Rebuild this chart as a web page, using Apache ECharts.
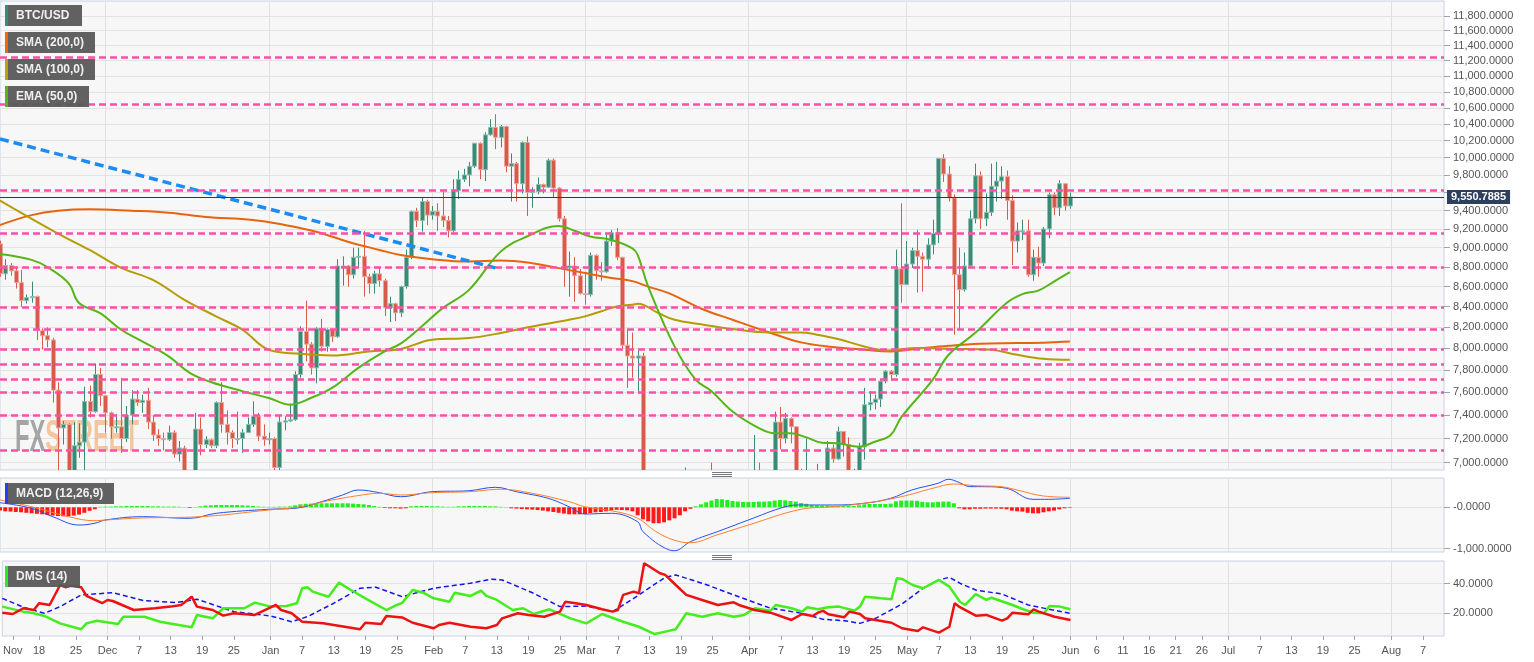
<!DOCTYPE html>
<html>
<head>
<meta charset="utf-8">
<script src="https://cdn.jsdelivr.net/npm/echarts@6/dist/echarts.min.js"></script>
<style>
html,body{margin:0;padding:0;background:#fff;}
#chart{width:1534px;height:662px;}
</style>
</head>
<body>
<div id="chart"></div>
<script>
// ---------- categories: daily dates from 2019-11-11 to 2020-08-11 ----------
const dates = [];
(function(){ const s = Date.UTC(2019,10,11); for (let i=0;i<275;i++){ dates.push(new Date(s+i*86400000).toISOString().slice(0,10)); } })();

// x tick labels [date, text]
const xTickLabels = [
 ['2019-11-13','Nov'],['2019-11-18','18'],['2019-11-25','25'],
 ['2019-12-01','Dec'],['2019-12-07','7'],['2019-12-13','13'],['2019-12-19','19'],['2019-12-25','25'],
 ['2020-01-01','Jan'],['2020-01-07','7'],['2020-01-13','13'],['2020-01-19','19'],['2020-01-25','25'],
 ['2020-02-01','Feb'],['2020-02-07','7'],['2020-02-13','13'],['2020-02-19','19'],['2020-02-25','25'],
 ['2020-03-01','Mar'],['2020-03-07','7'],['2020-03-13','13'],['2020-03-19','19'],['2020-03-25','25'],
 ['2020-04-01','Apr'],['2020-04-07','7'],['2020-04-13','13'],['2020-04-19','19'],['2020-04-25','25'],
 ['2020-05-01','May'],['2020-05-07','7'],['2020-05-13','13'],['2020-05-19','19'],['2020-05-25','25'],
 ['2020-06-01','Jun'],['2020-06-06','6'],['2020-06-11','11'],['2020-06-16','16'],['2020-06-21','21'],['2020-06-26','26'],
 ['2020-07-01','Jul'],['2020-07-07','7'],['2020-07-13','13'],['2020-07-19','19'],['2020-07-25','25'],
 ['2020-08-01','Aug'],['2020-08-07','7']
];
const priceTicks = [7000,7200,7400,7600,7800,8000,8200,8400,8600,8800,9000,9200,9400,9600,9800,10000,10200,10400,10600,10800,11000,11200,11400,11600,11800];
const priceLabels = [7000,7200,7400,7600,7800,8000,8200,8400,8600,8800,9000,9200,9400,9800,10000,10200,10400,10600,10800,11000,11200,11400,11600,11800];
const macdTicks = [-1000, 0];
const dmsTicks = [20, 40];

// ---------- BTC/USD daily candles [open, close, low, high], 2019-11-11 .. 2020-06-01 ----------
const candles = [
 // Nov 11-30
 [9040,8730,8700,9075],[8730,8815,8670,8880],[8815,8760,8710,8840],[8760,8640,8580,8790],[8640,8460,8400,8770],
 [8460,8490,8430,8520],[8490,8500,8440,8650],[8500,8170,8080,8510],[8170,8120,7990,8190],[8120,8080,8010,8200],
 [8080,7620,7510,8100],[7620,7290,6860,7690],[7290,7320,7150,7350],[7320,6910,6870,7330],[6910,7140,6530,7340],
 [7140,7170,7040,7330],[7170,7520,6850,7650],[7520,7430,7380,7660],[7430,7760,7420,7860],[7760,7570,7480,7820],
 // Dec
 [7570,7420,7250,7570],[7420,7300,7200,7430],[7300,7300,7250,7410],[7300,7200,7080,7730],[7200,7400,7170,7480],
 [7400,7540,7320,7620],[7540,7510,7480,7620],[7510,7530,7420,7580],[7530,7340,7280,7640],[7340,7230,7180,7400],
 [7230,7200,7140,7280],[7200,7190,7100,7250],[7190,7250,7180,7310],[7250,7070,7040,7270],[7070,7120,7010,7180],
 [7120,6880,6840,7140],[6880,6620,6560,6940],[6620,7280,6450,7420],[7280,7150,7060,7380],[7150,7190,7120,7220],
 [7190,7140,7120,7200],[7140,7510,7120,7520],[7510,7320,7250,7690],[7320,7250,7150,7440],[7250,7200,7120,7270],
 [7200,7200,7150,7430],[7200,7250,7080,7280],[7250,7320,7250,7380],[7320,7390,7300,7520],[7390,7220,7180,7420],
 [7220,7190,7140,7320],
 // Jan
 [7190,7200,7150,7250],[7200,6960,6920,7210],[6960,7340,6870,7400],[7340,7350,7270,7390],[7350,7360,7340,7500],
 [7360,7760,7350,7790],[7760,8160,7730,8210],[8160,8040,7880,8460],[8040,7820,7760,8060],[7820,8190,7680,8200],
 [8190,8020,7970,8280],[8020,8180,7970,8190],[8180,8110,8060,8190],[8110,8810,8100,8880],[8810,8810,8610,8910],
 [8810,8720,8600,8820],[8720,8900,8680,9000],[8900,8910,8800,9000],[8910,8700,8500,9180],[8700,8630,8530,8730],
 [8630,8730,8530,8760],[8730,8660,8600,8800],[8660,8390,8310,8680],[8390,8430,8250,8500],[8430,8340,8260,8440],
 [8340,8600,8300,8610],[8600,8900,8580,8980],[8900,9390,8880,9400],[9390,9290,9220,9430],[9290,9500,9170,9550],
 [9500,9350,9240,9520],
 // Feb
 [9350,9390,9300,9450],[9390,9340,9180,9480],[9340,9290,9220,9610],[9290,9180,9110,9340],[9180,9620,9160,9750],
 [9620,9750,9530,9850],[9750,9800,9720,9870],[9800,9900,9670,9950],[9900,10170,9880,10170],[10170,9860,9750,10180],
 [9860,10270,9730,10300],[10270,10360,10260,10460],[10360,10240,10100,10520],[10240,10370,10120,10390],[10370,9900,9830,10380],
 [9900,9930,9500,10050],[9930,9700,9500,9950],[9700,10180,9590,10190],[10180,9600,9340,10250],[9600,9610,9430,9660],
 [9610,9690,9580,9770],[9690,9660,9590,9700],[9660,9970,9650,9990],[9970,9650,9550,9990],[9650,9310,9280,9660],
 [9310,8790,8600,9340],[8790,8810,8500,8960],[8810,8710,8450,8900],[8710,8530,8520,8780],
 // Mar
 [8530,8520,8420,8750],[8520,8920,8500,8950],[8920,8760,8670,8930],[8760,8750,8660,8850],[8750,9070,8740,9150],
 [9070,9160,9020,9190],[9160,8900,8870,9210],[8900,8030,8000,8900],[8030,7930,7640,8180],[7930,7910,7730,8150],
 [7910,7930,7590,7980],[7930,4970,4700,7960],[4970,5560,3850,5960],[5560,5200,5100,5670],[5200,5390,5100,5950],
 [5390,5020,4450,5390],[5020,5360,4940,5550],[5360,5410,5080,5420],[5410,6190,5260,6390],[6190,6200,5770,6960],
 [6200,6190,5860,6450],[6190,5830,5760,6420],[5830,6470,5690,6590],[6470,6740,6410,6840],[6740,6690,6460,7000],
 [6690,6760,6540,6790],[6760,6370,6300,6860],[6370,6250,6030,6370],[6250,5880,5880,6260],[5880,6410,5860,6600],
 [6410,6420,6350,6520],
 // Apr
 [6420,6640,6170,6740],[6640,6810,6630,7230],[6810,6740,6650,7000],[6740,6870,6690,6920],[6870,6780,6700,6880],
 [6780,7340,6780,7430],[7340,7200,7110,7470],[7200,7370,7160,7420],[7370,7300,7160,7380],[7300,6870,6760,7300],
 [6870,6890,6790,6950],[6890,6920,6850,7200],[6920,6860,6610,6920],[6860,6880,6800,6990],[6880,6640,6620,6940],
 [6640,7120,6560,7180],[7120,7030,7000,7150],[7030,7260,7020,7300],[7260,7150,7050,7260],[7150,6850,6800,7210],
 [6850,6860,6820,6950],[6860,7130,6850,7165],[7130,7490,7025,7640],[7490,7510,7440,7610],[7510,7540,7450,7580],
 [7540,7700,7470,7720],[7700,7790,7680,7800],[7790,7760,7700,7800],[7760,8780,7740,8980],[8780,8620,8440,9480],
 // May
 [8620,8830,8620,9070],[8830,8970,8790,9000],[8970,8910,8540,9190],[8910,8880,8550,8950],[8880,9030,8780,9100],
 [9030,9150,8930,9300],[9150,9990,9050,9990],[9990,9810,9720,10040],[9810,9540,9500,9900],[9540,8720,8130,9580],
 [8720,8570,8180,9000],[8570,8810,8550,8950],[8810,9310,8800,9400],[9310,9790,9260,9930],[9790,9310,9200,9840],
 [9310,9380,9230,9590],[9380,9670,9340,9930],[9670,9730,9500,9950],[9730,9780,9530,9900],[9780,9510,9300,9850],
 [9510,9070,8820,9570],[9070,9180,8950,9270],[9180,9180,9080,9300],[9180,8720,8700,9300],[8720,8900,8660,8980],
 [8900,8840,8700,9010],[8840,9200,8810,9220],[9200,9575,9100,9600],[9575,9430,9350,9600],[9430,9700,9340,9740],
 [9700,9450,9400,9700],
 // Jun 1
 [9450,9551,9420,9600]
];
const lastPrice = 9550.7885;

// horizontal support / resistance levels (pink dashed)
const levels = [11250, 10650, 9630, 9150, 8800, 8390, 8180, 7990, 7855, 7720, 7600, 7395, 7100];

// trend line [dayIndex, value]
const trendLine = [[0, 10220], [94, 8790]];

// moving averages: [dayIndex since 2019-11-11, value]
const sma200 = [[0,9243],[6,9350],[11,9398],[17,9414],[25,9398],[32,9376],[39,9330],[48,9297],[54,9243],[60,9170],[66,9064],[72,8977],[76,8924],[82,8880],[89,8856],[95,8866],[101,8839],[106,8788],[111,8737],[116,8688],[120,8655],[123,8600],[127,8532],[133,8383],[139,8273],[146,8151],[152,8057],[158,8013],[164,7988],[169,7972],[174,7997],[180,8025],[186,8044],[193,8050],[199,8057],[203,8066]];
const sma100 = [[0,9510],[11,9150],[17,8977],[23,8790],[29,8668],[35,8468],[41,8306],[46,8177],[51,7988],[57,7950],[63,7934],[70,7972],[76,7995],[82,8082],[89,8098],[95,8145],[101,8209],[108,8273],[111,8306],[114,8354],[117,8403],[120,8420],[121,8430],[125,8336],[128,8273],[133,8230],[139,8184],[146,8151],[152,8151],[155,8130],[159,8089],[164,8019],[168,7981],[174,8004],[180,7997],[188,7988],[193,7941],[198,7904],[203,7895]];
const ema50 = [[0,8935],[6,8873],[9,8798],[13,8635],[15,8437],[19,8337],[23,8177],[27,8066],[32,7926],[36,7774],[40,7692],[46,7610],[51,7550],[55,7491],[59,7550],[63,7639],[68,7820],[73,7972],[76,8045],[80,8209],[84,8386],[89,8567],[95,8959],[100,9119],[106,9232],[109,9181],[112,9119],[116,9082],[120,8994],[121,8925],[123,8600],[128,8019],[132,7713],[135,7610],[139,7432],[144,7289],[147,7245],[150,7245],[153,7210],[156,7165],[159,7160],[163,7132],[166,7173],[169,7230],[171,7380],[177,7713],[180,7941],[185,8145],[191,8437],[194,8525],[197,8560],[200,8651],[203,8746]];

// MACD (12,26,9)
const macdLine = [[0,111],[6,-24],[10,-227],[15,-428],[18,-386],[20,-307],[27,-227],[36,-266],[41,-145],[51,-48],[56,-24],[61,135],[65,297],[68,418],[72,353],[76,256],[82,377],[89,401],[94,483],[98,377],[104,217],[108,14],[111,-162],[116,-145],[121,-348],[122,-589],[127,-1031],[128,-1048],[131,-831],[137,-548],[142,-307],[149,14],[152,56],[158,56],[164,97],[169,217],[173,418],[178,580],[180,676],[182,600],[184,500],[187,498],[191,459],[196,193],[199,193],[203,217]];
const signalLine = [[0,176],[6,14],[13,-227],[18,-324],[20,-307],[27,-258],[38,-227],[51,-65],[57,14],[63,176],[70,321],[72,338],[76,297],[82,353],[89,377],[95,435],[101,338],[108,135],[111,14],[117,-106],[121,-266],[125,-628],[129,-831],[131,-855],[136,-669],[142,-428],[152,-48],[158,14],[164,97],[171,256],[177,459],[181,563],[185,522],[190,498],[193,418],[198,273],[203,242]];
const macdHist = [
 -80,-97,-104,-113,-121,-133,-145,-157,-169,-186,
 -200,-210,-217,-217,-200,-176,-133,-85,-48,12,
 17,17,24,24,31,31,31,31,31,24,
 24,17,17,17,12,7,-17,7,24,41,
 48,56,56,56,56,56,48,41,31,17,
 12,12,12,17,17,24,48,72,85,89,
 89,97,97,97,97,97,97,89,80,72,
 56,31,12,-17,-24,-24,-31,-24,24,31,
 31,31,24,24,17,12,12,24,24,31,
 31,31,31,24,24,12,7,-24,-31,-41,
 -48,-56,-65,-80,-97,-113,-133,-152,-169,-169,
 -169,-162,-138,-121,-113,-97,-72,-60,-65,-72,
 -97,-193,-290,-338,-386,-386,-362,-314,-266,-193,
 -97,-36,24,72,121,162,200,193,176,152,
 138,128,128,128,138,138,145,162,176,169,
 152,138,104,85,56,48,41,41,31,31,
 31,31,31,48,72,80,80,80,80,89,
 145,162,162,162,157,133,121,121,133,138,
 138,97,-24,-48,-48,-36,-36,-31,-31,-31,
 -36,-48,-80,-97,-104,-133,-145,-145,-121,-97,
 -80,-48,-24,-12
];

// DMS (14)
const diMinus = [[0,20.4],[2,19.5],[4,23.4],[6,22.2],[7,26.8],[9,25.6],[11,39.1],[12,37.6],[13,38.6],[15,37.6],[16,31.7],[19,26.8],[20,29.0],[21,28.3],[25,22.2],[29,23.4],[32,24.5],[34,25.6],[36,31.2],[37,24.5],[40,22.2],[42,18.4],[44,20.0],[48,18.9],[52,25.6],[53,22.2],[55,20.0],[57,14.3],[61,13.2],[63,12.1],[68,9.2],[69,13.6],[72,12.8],[73,18.2],[76,17.2],[78,13.6],[82,9.9],[83,12.1],[85,13.6],[89,10.9],[92,9.9],[94,12.1],[95,16.6],[98,20.0],[100,18.9],[103,17.7],[106,21.1],[107,27.8],[109,26.8],[111,25.6],[114,22.7],[116,21.1],[117,22.2],[118,32.4],[120,34.6],[121,33.5],[122,53.8],[125,47.0],[126,45.9],[128,39.1],[130,32.4],[133,29.0],[136,25.6],[139,27.4],[140,25.6],[143,22.2],[146,20.4],[150,15.5],[152,19.5],[154,18.2],[155,20.4],[156,21.6],[157,19.3],[160,17.3],[161,21.1],[163,19.5],[164,16.6],[169,13.6],[171,9.9],[174,8.0],[175,10.5],[178,6.9],[180,10.9],[181,26.8],[182,24.1],[185,18.4],[187,18.9],[190,15.0],[191,16.6],[192,20.4],[195,19.3],[196,22.7],[197,21.1],[200,17.7],[203,15.5]];
const diPlus = [[0,24.5],[4,21.1],[6,20.0],[8,18.2],[11,13.2],[15,9.2],[16,13.2],[18,15.0],[22,12.8],[23,17.7],[27,17.7],[30,14.3],[36,10.5],[37,18.9],[40,16.6],[42,23.4],[46,23.4],[48,27.2],[51,24.5],[54,24.9],[56,26.8],[57,36.9],[58,37.6],[59,34.6],[62,31.2],[64,40.7],[66,36.2],[69,30.1],[73,22.2],[75,25.6],[76,27.0],[78,35.7],[80,33.9],[82,30.1],[85,27.8],[86,33.9],[89,31.7],[91,35.3],[92,31.7],[94,29.0],[97,22.2],[99,23.4],[101,19.5],[104,22.7],[108,16.6],[111,13.2],[114,19.5],[118,14.3],[121,10.9],[124,6.0],[126,7.6],[128,9.2],[130,20.0],[133,17.7],[136,20.0],[139,17.7],[141,18.9],[143,23.4],[146,21.8],[147,25.6],[150,23.4],[152,21.1],[153,24.1],[155,22.7],[157,24.1],[159,24.5],[162,21.8],[163,24.5],[164,31.2],[167,30.1],[169,29.5],[170,43.6],[171,43.2],[173,39.1],[175,36.9],[178,42.5],[180,38.0],[182,27.8],[183,25.6],[185,33.0],[187,29.0],[188,30.5],[192,25.6],[194,22.7],[196,20.4],[198,20.0],[199,24.9],[201,24.5],[203,22.7]];
const adx = [[0,30.1],[4,24.1],[8,20.0],[11,24.5],[15,32.4],[21,33.9],[27,28.5],[33,27.2],[37,29.5],[44,21.1],[51,18.2],[55,14.3],[58,17.7],[63,26.8],[68,36.9],[71,37.6],[76,31.2],[82,36.9],[89,40.3],[93,43.0],[95,42.5],[101,33.5],[106,24.5],[111,24.9],[116,21.1],[120,30.1],[126,44.3],[128,45.9],[134,39.1],[139,32.4],[146,23.4],[152,20.0],[156,15.9],[160,15.0],[163,13.2],[166,16.6],[171,26.3],[175,36.9],[178,42.5],[180,44.3],[182,40.3],[185,35.7],[190,33.0],[195,25.6],[199,22.7],[203,20.0]];

// ---------- helpers ----------
const labelMap = new Map(xTickLabels);
const fmt4 = v => Number(v).toLocaleString('en-US', {minimumFractionDigits:4, maximumFractionDigits:4});
const pts = arr => arr.map(p => [dates[p[0]], p[1]]);
const FONT = '"Liberation Sans", Arial, sans-serif';
const isMonthStart = (i, v) => typeof v === 'string' && v.slice(8) === '01';
const UP = '#3a8b76', DOWN = '#d85a4b', UP_EDGE = '#8cbfb1', DOWN_EDGE = '#eca59c';

function xAxis(grid, showLabels){
  return {
    type:'category', gridIndex:grid, data:dates, boundaryGap:false,
    axisLine:{show:false},
    axisTick:{show:showLabels, interval:(i,v)=>labelMap.has(v), length:4, lineStyle:{color:'#9aa3b5'}},
    axisLabel:{show:showLabels, interval:(i,v)=>labelMap.has(v), formatter:v=>labelMap.get(v)||'', color:'#555', fontSize:11, margin:9, fontFamily:FONT},
    splitLine:{show:true, interval:isMonthStart, lineStyle:{color:'#e0e0e0', width:1}}
  };
}
const gridStyle = {show:true, backgroundColor:'#f7f7f7', borderColor:'#c9d1e3', borderWidth:1};

const legendBoxes = [
 {text:'BTC/USD', y:5, w:77, color:'#2f8f7a'},
 {text:'SMA (200,0)', y:32, w:90, color:'#ea6a0c'},
 {text:'SMA (100,0)', y:59, w:90, color:'#b8a20e'},
 {text:'EMA (50,0)', y:86, w:84, color:'#4fb81c'},
 {text:'MACD (12,26,9)', y:483, w:109, color:'#1f3fff'},
 {text:'DMS (14)', y:566, w:75, color:'#33e625'}
];
const graphics = [];
legendBoxes.forEach(b => {
  graphics.push({type:'rect', z:100, shape:{x:5, y:b.y, width:b.w, height:21}, style:{fill:'rgba(88,88,88,0.95)'}});
  graphics.push({type:'rect', z:101, shape:{x:5, y:b.y, width:3, height:21}, style:{fill:b.color}});
  graphics.push({type:'text', z:101, style:{x:16, y:b.y+11, text:b.text, fill:'#f0f0f0', font:'bold 12px '+FONT, verticalAlign:'middle'}});
});
[472.5, 474.5, 476.5, 555.5, 557.5, 559.5].forEach(y => {
  graphics.push({type:'line', z:100, shape:{x1:712, y1:y, x2:732, y2:y}, style:{stroke:'#7a7a7a', lineWidth:1}});
});
graphics.push({type:'text', z:1, x:15, y:439, scaleX:0.54,
  style:{x:0, y:0, text:'{a|FX}{b|STREET}', verticalAlign:'middle',
  rich:{a:{fill:'rgba(130,130,130,0.7)', font:'bold 44px "Liberation Sans", sans-serif'},
        b:{fill:'rgba(242,172,110,0.65)', font:'bold 44px "Liberation Sans", sans-serif'}}}});

function renderCandle(params, api){
  const i = api.value(0);
  const o = api.value(1), c = api.value(2), l = api.value(3), h = api.value(4);
  const x = Math.round(api.coord([i, o])[0]);
  const yo = api.coord([i, o])[1], yc = api.coord([i, c])[1];
  const yl = api.coord([i, l])[1], yh = api.coord([i, h])[1];
  const up = c >= o;
  const top = Math.min(yo, yc), hgt = Math.max(Math.abs(yc - yo), 1);
  return {type:'group', children:[
    {type:'line', shape:{x1:x+0.5, y1:yh, x2:x+0.5, y2:yl}, style:{stroke:up?UP:DOWN, lineWidth:1}},
    {type:'rect', shape:{x:x-1.5, y:top, width:4, height:hgt}, style:{fill:up?UP:DOWN, stroke:up?UP_EDGE:DOWN_EDGE, lineWidth:1}}
  ]};
}

const chart = echarts.init(document.getElementById('chart'), null, {renderer:'canvas'});
chart.setOption({
  animation:false,
  backgroundColor:'#ffffff',
  textStyle:{fontFamily:FONT},
  grid:[
    Object.assign({left:0, top:1, width:1444, height:469}, gridStyle),
    Object.assign({left:0, top:478, width:1444, height:74}, gridStyle),
    Object.assign({left:0, top:561, width:1444, height:75}, gridStyle)
  ],
  xAxis:[xAxis(0,false), xAxis(1,false), xAxis(2,true)],
  yAxis:[
    {type:'log', logBase:10, gridIndex:0, position:'right', min:6940, max:12010,
     axisLine:{show:false},
     axisTick:{show:true, customValues:priceTicks, length:6, lineStyle:{color:'#9aa3b5'}},
     axisLabel:{customValues:priceLabels, formatter:v=>fmt4(v), color:'#555', fontSize:11, margin:9, fontFamily:FONT},
     splitLine:{show:true, lineStyle:{color:'#e2e2e2'}}},
    {type:'value', gridIndex:1, position:'right', min:-1080, max:708,
     axisLine:{show:false},
     axisTick:{show:true, customValues:macdTicks, length:6, lineStyle:{color:'#9aa3b5'}},
     axisLabel:{customValues:macdTicks, formatter:v=>(v===0?'-0.0000':fmt4(v)), color:'#555', fontSize:11, margin:9, fontFamily:FONT},
     splitLine:{show:true, lineStyle:{color:'#e2e2e2'}}},
    {type:'value', gridIndex:2, position:'right', min:4.66, max:55.3,
     axisLine:{show:false},
     axisTick:{show:true, customValues:dmsTicks, length:6, lineStyle:{color:'#9aa3b5'}},
     axisLabel:{customValues:dmsTicks, formatter:v=>fmt4(v), color:'#555', fontSize:11, margin:9, fontFamily:FONT},
     splitLine:{show:true, lineStyle:{color:'#e2e2e2'}}}
  ],
  graphic:graphics,
  series:[
    {type:'custom', name:'BTC/USD', xAxisIndex:0, yAxisIndex:0, clip:true, z:2,
     data:candles.map((c, i) => [i, c[0], c[1], c[2], c[3]]),
     encode:{x:0, y:[1,2,3,4]}, renderItem:renderCandle},
    {type:'line', name:'SMA (200,0)', xAxisIndex:0, yAxisIndex:0, data:pts(sma200), smooth:0.4, showSymbol:false, z:4,
     lineStyle:{color:'#e8640c', width:2}},
    {type:'line', name:'SMA (100,0)', xAxisIndex:0, yAxisIndex:0, data:pts(sma100), smooth:0.4, showSymbol:false, z:4,
     lineStyle:{color:'#b39c05', width:2}},
    {type:'line', name:'EMA (50,0)', xAxisIndex:0, yAxisIndex:0, data:pts(ema50), smooth:0.4, showSymbol:false, z:4,
     lineStyle:{color:'#56b517', width:2}},
    {type:'line', name:'trend', xAxisIndex:0, yAxisIndex:0, data:pts(trendLine), showSymbol:false, z:5,
     lineStyle:{color:'#1c8cf5', width:3.5, type:[9,5]},
     markLine:{silent:true, symbol:'none', z:6, animation:false,
       data: levels.map(v => ({yAxis:v, lineStyle:{color:'#ff4fa6', type:[7,4], width:2.5}, label:{show:false}}))
         .concat([{yAxis:lastPrice, lineStyle:{color:'#2b3b52', type:'solid', width:1},
           label:{show:true, position:'end', distance:3, formatter:'9,550.7885', color:'#fff', fontWeight:'bold', fontSize:11,
                  backgroundColor:'#2c3f5e', padding:[2,4,1,4], fontFamily:FONT}}])
     }},
    {type:'bar', name:'MACD hist', xAxisIndex:1, yAxisIndex:1, data:macdHist, barWidth:4, z:2,
     itemStyle:{color:p => p.value >= 0 ? '#22ee22' : '#ff1a1a'}},
    {type:'line', name:'MACD', xAxisIndex:1, yAxisIndex:1, data:pts(macdLine), smooth:0.4, showSymbol:false, z:3,
     lineStyle:{color:'#2350f0', width:1}},
    {type:'line', name:'Signal', xAxisIndex:1, yAxisIndex:1, data:pts(signalLine), smooth:0.4, showSymbol:false, z:3,
     lineStyle:{color:'#ff7f2a', width:1}},
    {type:'line', name:'ADX', xAxisIndex:2, yAxisIndex:2, data:pts(adx), showSymbol:false, z:3,
     lineStyle:{color:'#1515ee', width:1.5, type:[5,3]}},
    {type:'line', name:'DI+', xAxisIndex:2, yAxisIndex:2, data:pts(diPlus), showSymbol:false, z:4,
     lineStyle:{color:'#44ee1c', width:2.5}},
    {type:'line', name:'DI-', xAxisIndex:2, yAxisIndex:2, data:pts(diMinus), showSymbol:false, z:4,
     lineStyle:{color:'#ee1111', width:2.5}}
  ]
});
</script>
</body>
</html>
